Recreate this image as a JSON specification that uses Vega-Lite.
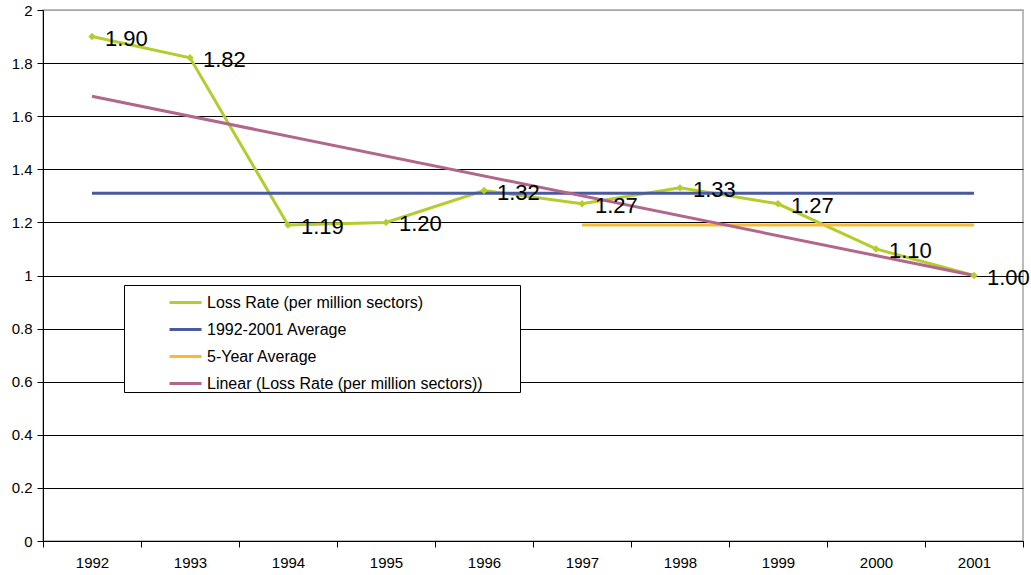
{
  "$schema": "https://vega.github.io/schema/vega-lite/v6.json",
  "autosize": "none",
  "width": 980,
  "height": 531,
  "padding": {"left": 43, "top": 10, "right": 8, "bottom": 34},
  "background": "white",
  "config": {
    "font": "Liberation Sans",
    "view": {"stroke": "#a6a6a6", "strokeWidth": 1.5}
  },
  "data": {
    "values": [
      {"year": "1992", "value": 1.90, "series": "Loss Rate (per million sectors)"},
      {"year": "1993", "value": 1.82, "series": "Loss Rate (per million sectors)"},
      {"year": "1994", "value": 1.19, "series": "Loss Rate (per million sectors)"},
      {"year": "1995", "value": 1.20, "series": "Loss Rate (per million sectors)"},
      {"year": "1996", "value": 1.32, "series": "Loss Rate (per million sectors)"},
      {"year": "1997", "value": 1.27, "series": "Loss Rate (per million sectors)"},
      {"year": "1998", "value": 1.33, "series": "Loss Rate (per million sectors)"},
      {"year": "1999", "value": 1.27, "series": "Loss Rate (per million sectors)"},
      {"year": "2000", "value": 1.10, "series": "Loss Rate (per million sectors)"},
      {"year": "2001", "value": 1.00, "series": "Loss Rate (per million sectors)"},
      {"year": "1992", "value": 1.31, "series": "1992-2001 Average"},
      {"year": "2001", "value": 1.31, "series": "1992-2001 Average"},
      {"year": "1997", "value": 1.19, "series": "5-Year Average"},
      {"year": "2001", "value": 1.19, "series": "5-Year Average"},
      {"year": "1992", "value": 1.675, "series": "Linear (Loss Rate (per million sectors))"},
      {"year": "2001", "value": 1.00, "series": "Linear (Loss Rate (per million sectors))"}
    ]
  },
  "encoding": {
    "x": {
      "field": "year", "type": "ordinal",
      "scale": {"type": "band", "domain": ["1992","1993","1994","1995","1996","1997","1998","1999","2000","2001"], "paddingInner": 0, "paddingOuter": 0},
      "axis": {
        "title": null, "labelAngle": 0, "tickBand": "extent",
        "domainColor": "black", "tickColor": "black", "tickSize": 6,
        "labelFontSize": 15, "labelColor": "black", "labelPadding": 8, "grid": false
      }
    },
    "y": {
      "field": "value", "type": "quantitative",
      "scale": {"domain": [0, 2], "nice": false, "zero": true},
      "axis": {
        "title": null, "values": [0,0.2,0.4,0.6,0.8,1,1.2,1.4,1.6,1.8,2], "format": "~g",
        "domainColor": "black", "tickColor": "black", "tickSize": 6,
        "labelFontSize": 15, "labelColor": "black", "labelPadding": 5,
        "grid": true,
        "gridColor": {"condition": {"test": "datum.value == 2", "value": "#a6a6a6"}, "value": "black"},
        "gridOpacity": 1, "gridWidth": 1
      }
    }
  },
  "layer": [
    {
      "mark": {"type": "line", "strokeWidth": 3},
      "encoding": {
        "color": {
          "field": "series", "type": "nominal",
          "scale": {
            "domain": ["Loss Rate (per million sectors)", "1992-2001 Average", "5-Year Average", "Linear (Loss Rate (per million sectors))"],
            "range": ["#b5cc2e", "#4a5a9e", "#f8b935", "#b2668a"]
          },
          "legend": {
            "title": "xxxxxx", "titleOrient": "right", "titleOpacity": 0, "titleFontSize": 11, "titlePadding": 0,
            "orient": "none", "legendX": 81, "legendY": 275,
            "strokeColor": "black", "fillColor": "white", "padding": 0,
            "symbolType": "stroke", "symbolSize": 1024, "symbolStrokeWidth": 3,
            "symbolOffset": 44, "rowPadding": 1,
            "labelFontSize": 16, "labelColor": "black", "labelOffset": 4, "labelLimit": 600
          }
        },
        "order": {"value": 0}
      }
    },
    {
      "transform": [{"filter": "datum.series == 'Loss Rate (per million sectors)'"}],
      "mark": {"type": "point", "shape": "diamond", "filled": true, "size": 55, "color": "#b5cc2e", "opacity": 1}
    },
    {
      "transform": [{"filter": "datum.series == 'Loss Rate (per million sectors)'"}],
      "mark": {"type": "text", "align": "left", "baseline": "middle", "dx": 13, "dy": 2, "fontSize": 22, "color": "black"},
      "encoding": {"text": {"field": "value", "type": "quantitative", "format": ".2f"}}
    }
  ]
}
